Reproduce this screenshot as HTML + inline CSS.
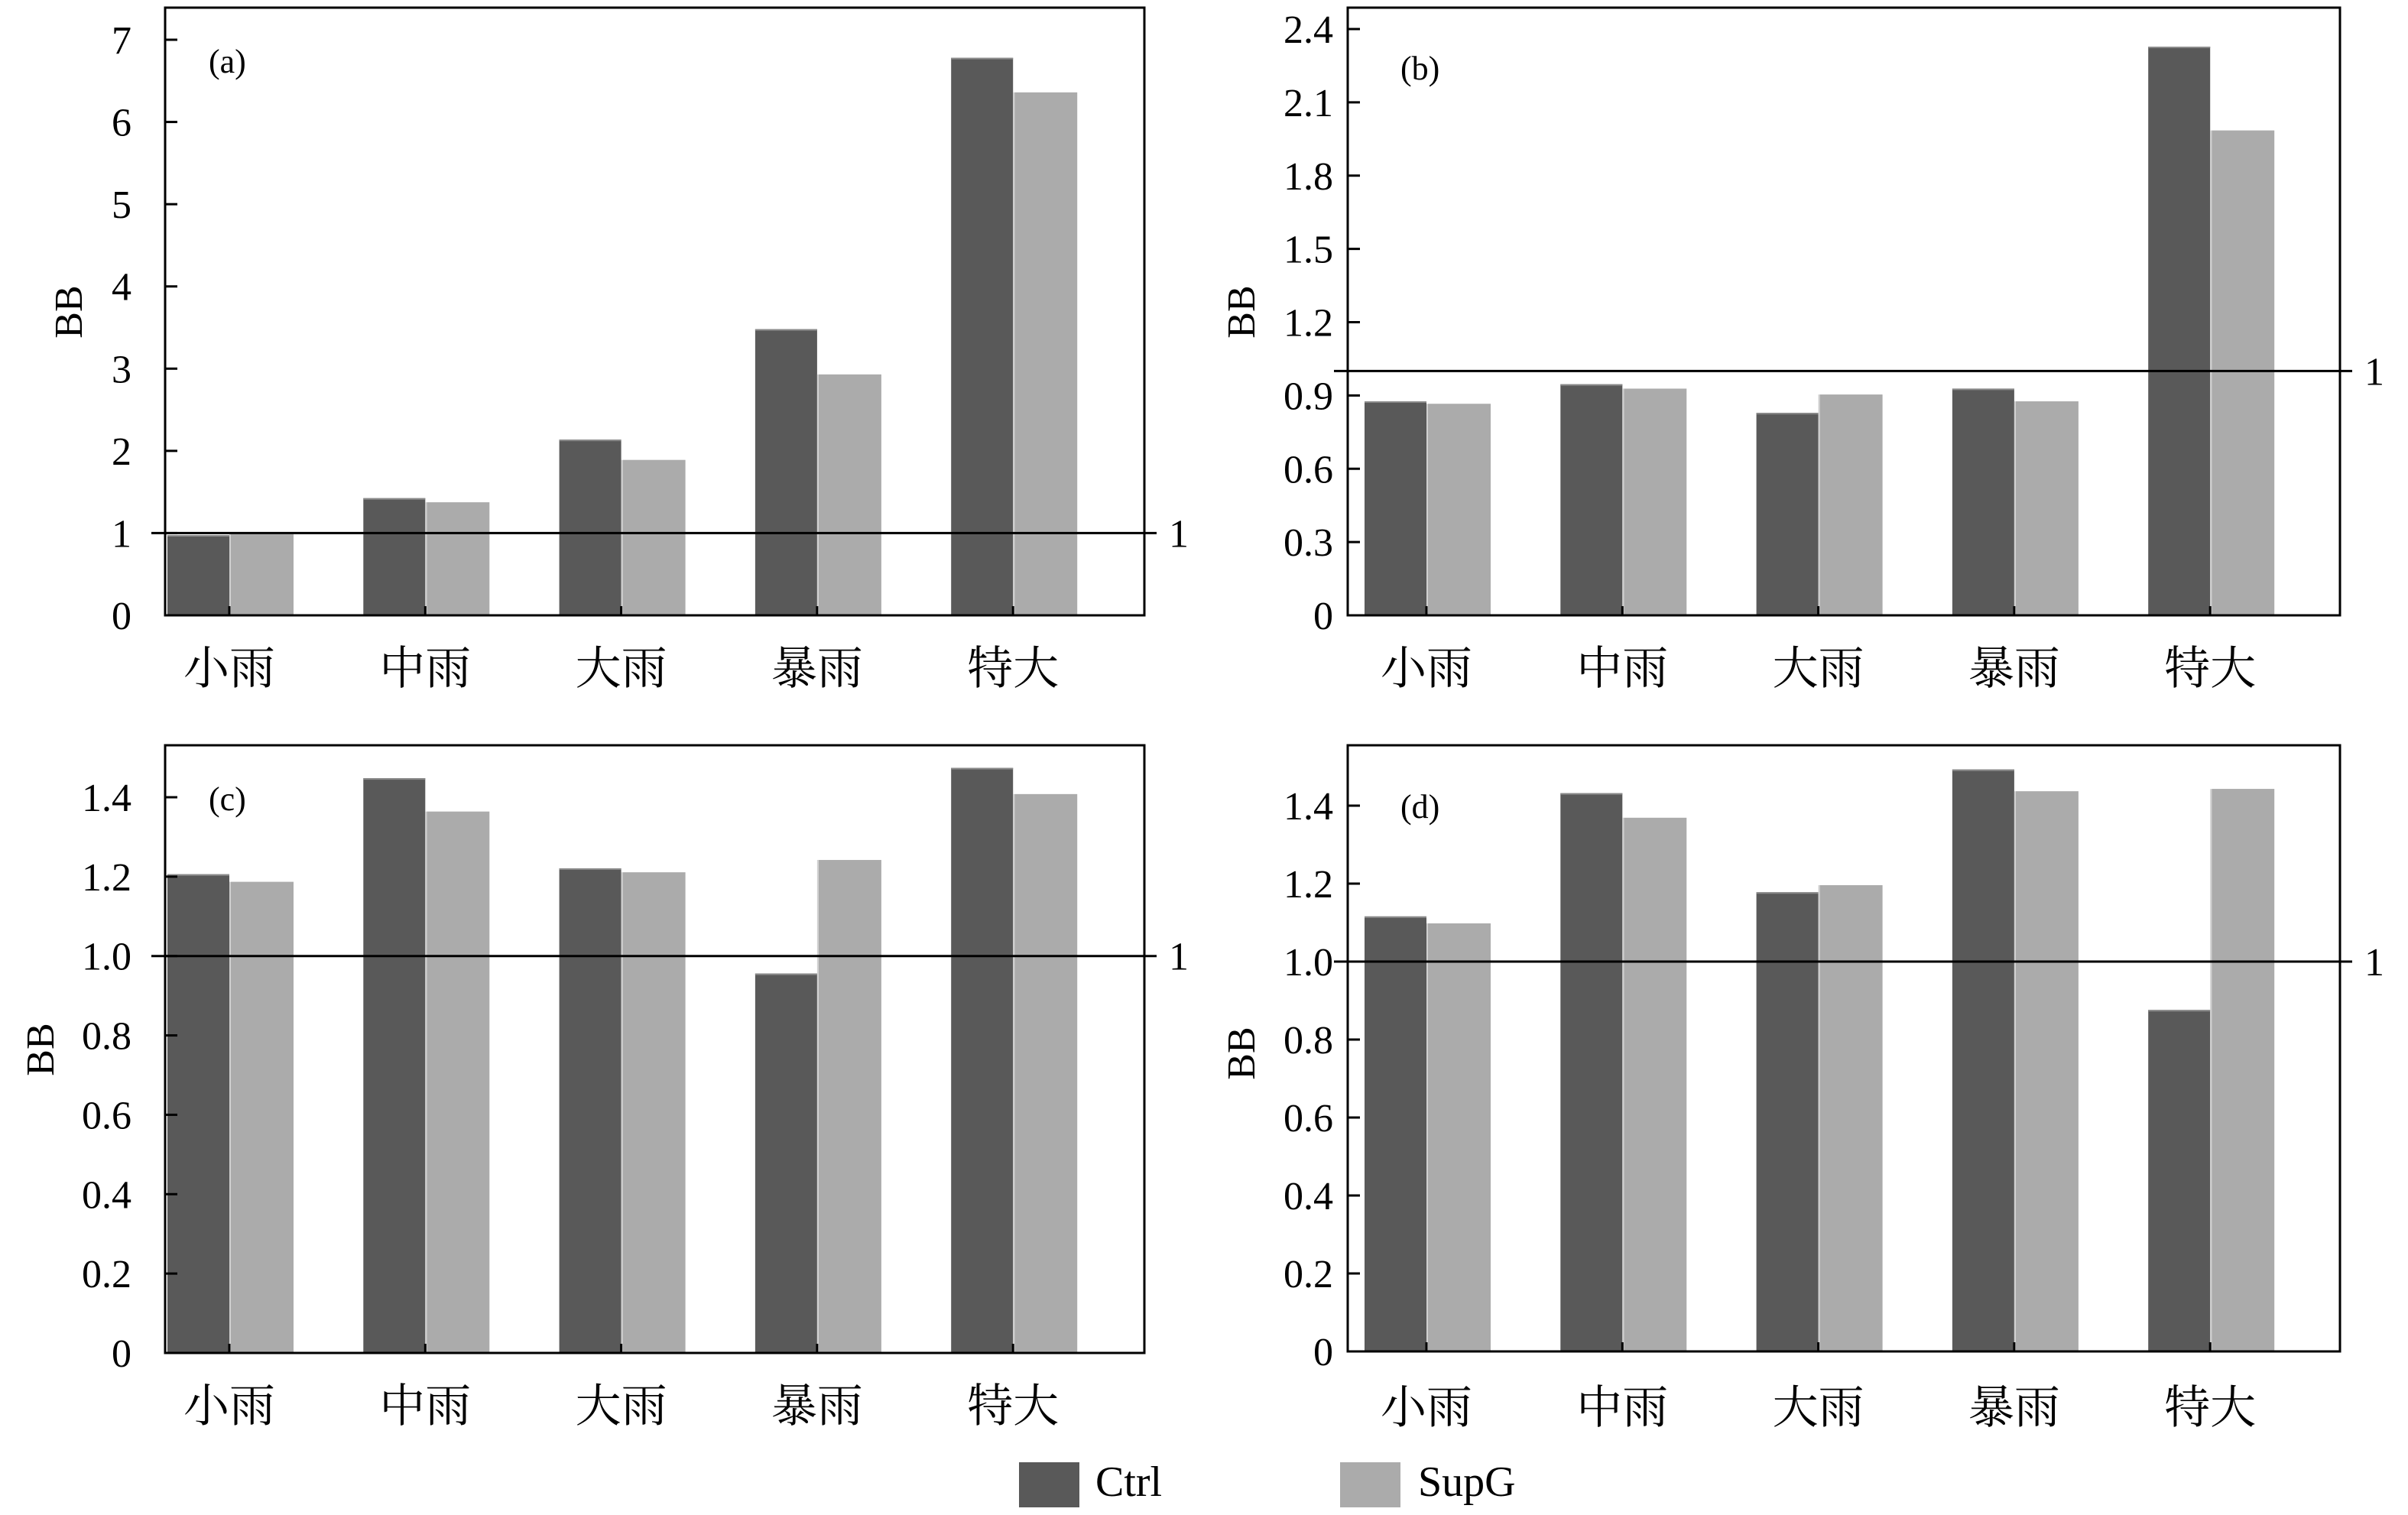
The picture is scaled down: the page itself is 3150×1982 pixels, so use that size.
<!DOCTYPE html>
<html><head><meta charset="utf-8">
<style>
html,body{margin:0;padding:0;background:#fff;}
svg{display:block;}
text{font-family:"Liberation Serif","Noto Serif CJK SC","Noto Sans CJK SC",serif;fill:#000;}
</style></head>
<body>
<svg id="chart" width="3150" height="1982" viewBox="0 0 3150 1982" xmlns="http://www.w3.org/2000/svg"></svg>
<script>
const categories = ["小雨","中雨","大雨","暴雨","特大"];
const ctrlA = [0.976, 1.425, 2.137, 3.48, 6.78];
const supgA = [0.985, 1.375, 1.89, 2.93, 6.36];
const ctrlB = [0.876, 0.946, 0.829, 0.928, 2.328];
const supgB = [0.866, 0.928, 0.904, 0.876, 1.985];
const ctrlC = [1.206, 1.448, 1.221, 0.956, 1.474];
const supgC = [1.187, 1.364, 1.211, 1.242, 1.408];
const ctrlD = [1.116, 1.432, 1.178, 1.493, 0.876];
const supgD = [1.098, 1.369, 1.196, 1.437, 1.443];
const ticksA = ["0","1","2","3","4","5","6","7"];
const ticksB = ["0","0.3","0.6","0.9","1.2","1.5","1.8","2.1","2.4"];
const ticksCD = ["0","0.2","0.4","0.6","0.8","1.0","1.2","1.4"];
const refValue = 1;

const NS = "http://www.w3.org/2000/svg";
const svg = document.getElementById("chart");
function mk(tag, attrs, parent){
  const e = document.createElementNS(NS, tag);
  for (const k in attrs) e.setAttribute(k, attrs[k]);
  (parent||svg).appendChild(e);
  return e;
}

const panels = [
  {id:"a", left:216, right:1497, top:10, bottom:805, v0:0, vTick:7, yTick:52, ticks:ticksA, ctrl:ctrlA, supg:supgA, bbX:89, bbY:408, tagX:273, tagY:95, catY:895, x0:300, labX:172},
  {id:"b", left:1763, right:3061, top:10, bottom:805, v0:0, vTick:2.4, yTick:38, ticks:ticksB, ctrl:ctrlB, supg:supgB, bbX:1623, bbY:408, tagX:1832, tagY:104, catY:895, x0:1866, labX:1744},
  {id:"c", left:216, right:1497, top:975, bottom:1770, v0:0, vTick:1.4, yTick:1043, ticks:ticksCD, ctrl:ctrlC, supg:supgC, bbX:52, bbY:1373, tagX:273, tagY:1060, catY:1860, x0:300, labX:172},
  {id:"d", left:1763, right:3061, top:975, bottom:1768, v0:0, vTick:1.4, yTick:1054, ticks:ticksCD, ctrl:ctrlD, supg:supgD, bbX:1623, bbY:1378, tagX:1832, tagY:1070, catY:1862, x0:1866, labX:1744}
];

panels.forEach(p => {
  const g = mk("g", {});
  
  
  const yScale = v => p.bottom - (v - p.v0) * (p.bottom - p.yTick) / (p.vTick - p.v0);
  const step = 256.3;
  const xCenter = i => p.x0 + i * step;
  const bw = 81;

  categories.forEach((c, i) => {
    const cx = xCenter(i);
    const y1 = yScale(p.ctrl[i]);
    const r1 = mk("rect", {x: cx - bw, y: y1, width: bw, height: p.bottom - y1, fill: "#595959"}, g);
    
    
    mk("line", {x1: cx - bw, x2: cx, y1: y1 + 1, y2: y1 + 1, stroke: "#8a8a8a", "stroke-width": 2}, g);
    const y2 = yScale(p.supg[i]);
    const r2 = mk("rect", {x: cx + 2, y: y2, width: bw + 1, height: p.bottom - y2, fill: "#ababab"}, g);
    
    
    mk("line", {x1: cx + 1, x2: cx + 1, y1: y2, y2: p.bottom, stroke: "#d0d0d0", "stroke-width": 2}, g);
    const t = mk("text", {x: cx, y: p.catY, "font-size": 60, "text-anchor": "middle"}, g);
    t.textContent = c;
    
    
    mk("line", {x1: cx, x2: cx, y1: p.bottom, y2: p.bottom - 12, stroke: "#000", "stroke-width": 3}, g);
  });

  const fr = mk("rect", {x: p.left, y: p.top, width: p.right - p.left, height: p.bottom - p.top, fill: "none", stroke: "#000", "stroke-width": 3}, g);
  
  

  p.ticks.forEach(lbl => {
    const v = parseFloat(lbl);
    const y = yScale(v);
    mk("line", {x1: p.left, x2: p.left + 16, y1: y, y2: y, stroke: "#000", "stroke-width": 3}, g);
    const t = mk("text", {x: p.labX, y: y + 18, "font-size": 52, "text-anchor": "end"}, g);
    t.textContent = lbl;
    
    
  });

  const ry = yScale(refValue);
  const rl = mk("line", {x1: p.left - 18, x2: p.right + 16, y1: ry, y2: ry, stroke: "#000", "stroke-width": 3}, g);
  
  
  const rt = mk("text", {x: p.right + 32, y: ry + 18, "font-size": 52}, g);
  rt.textContent = "1";
  
  

  const bb = mk("text", {x: p.bbX, y: p.bbY, "font-size": 52, "text-anchor": "middle", transform: "rotate(-90 " + p.bbX + " " + p.bbY + ")", dy: 18}, g);
  bb.textContent = "BB";
  
  

  const tag = mk("text", {x: p.tagX, y: p.tagY, "font-size": 44}, g);
  tag.textContent = "(" + p.id + ")";
  
  
});

const lg = mk("g", {});


const e1 = mk("rect", {x: 1333, y: 1913, width: 79, height: 59, fill: "#595959"}, lg);


const t1 = mk("text", {x: 1433, y: 1957, "font-size": 56}, lg);
t1.textContent = "Ctrl";


const e2 = mk("rect", {x: 1753, y: 1913, width: 79, height: 59, fill: "#ababab"}, lg);


const t2 = mk("text", {x: 1855, y: 1957, "font-size": 56}, lg);
t2.textContent = "SupG";


</script>
</body></html>
